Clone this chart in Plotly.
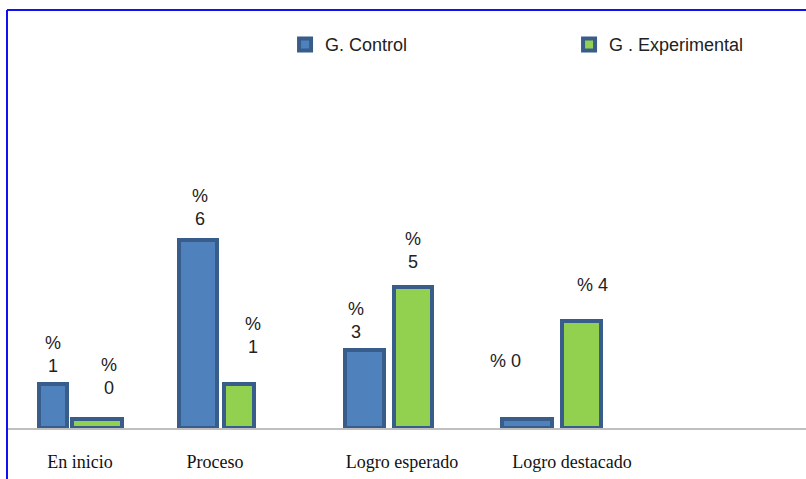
import plotly.graph_objects as go

categories = ["En inicio", "Proceso", "Logro esperado", "Logro destacado"]
control_values = [14, 60, 25, 3]
experimental_values = [3, 14, 45, 34]
control_labels = ["%<br>1", "%<br>6", "%<br>3", "% 0"]
experimental_labels = ["%<br>0", "%<br>1", "%<br>5", "% 4"]
series_names = ["G. Control", "G . Experimental"]

# layout constants (horizontal positions in pixel-like units of the x axis)
ctrl_x = [53, 198, 364.5, 527]
ctrl_w = [28, 38, 39, 50]
exp_x = [97, 239, 413, 581.5]
exp_w = [50, 30, 38, 39]
cat_x = [80, 215, 402, 572]
ctrl_lbl_dx = [0, 2, -9, -22]
exp_lbl_dx = [12, 14, 0, 11]
ctrl_lbl_gap = [6, 9, 6, 46]
exp_lbl_gap = [19, 25, 13, 24]

EDGE = "#385D8A"
fig = go.Figure()
fig.add_trace(go.Bar(x=ctrl_x, y=control_values, width=ctrl_w, name=series_names[0],
                     marker=dict(color="#4F81BD", line=dict(color=EDGE, width=4))))
fig.add_trace(go.Bar(x=exp_x, y=experimental_values, width=exp_w, name=series_names[1],
                     marker=dict(color="#92D050", line=dict(color=EDGE, width=4))))

ann = []
for xs, vs, ls, dxs, gaps in [(ctrl_x, control_values, control_labels, ctrl_lbl_dx, ctrl_lbl_gap),
                              (exp_x, experimental_values, experimental_labels, exp_lbl_dx, exp_lbl_gap)]:
    for x, v, t, dx, g in zip(xs, vs, ls, dxs, gaps):
        ann.append(dict(x=x, y=v, text=t, showarrow=False, xanchor="center", yanchor="bottom",
                        xshift=dx, yshift=g, font=dict(family="Liberation Sans", size=18, color="#222"),
                        align="center"))

fig.update_layout(
    width=806, height=479,
    margin=dict(l=7, r=0, t=10, b=51, autoexpand=False),
    paper_bgcolor="white", plot_bgcolor="white",
    barmode="overlay",
    bargap=0,
    annotations=ann,
    showlegend=True,
    legend=dict(orientation="h", x=0.348, y=0.917, xanchor="left", yanchor="middle",
                entrywidth=239, entrywidthmode="pixels",
                font=dict(family="Liberation Sans", size=18, color="#222"),
                bgcolor="rgba(0,0,0,0)"),
    xaxis=dict(range=[7, 806], tickvals=cat_x, ticktext=categories, showgrid=False,
               zeroline=False, showline=True, linecolor="#BFBFBF", linewidth=2,
               ticks="", ticklabelstandoff=16,
               tickfont=dict(family="Liberation Serif", size=18, color="#111")),
    yaxis=dict(range=[0, 133.4], visible=False, showgrid=False, zeroline=False),
    shapes=[
        dict(type="line", xref="paper", yref="paper", x0=0, x1=1, y0=1, y1=1,
             line=dict(color="#1010F0", width=2)),
        dict(type="line", xref="paper", yref="paper", x0=0, x1=0, y0=1, y1=-0.13,
             line=dict(color="#1010F0", width=2)),
    ],
)

fig.write_html("out.html", config={"displayModeBar": False},
               post_script="document.body.style.margin='0';")
